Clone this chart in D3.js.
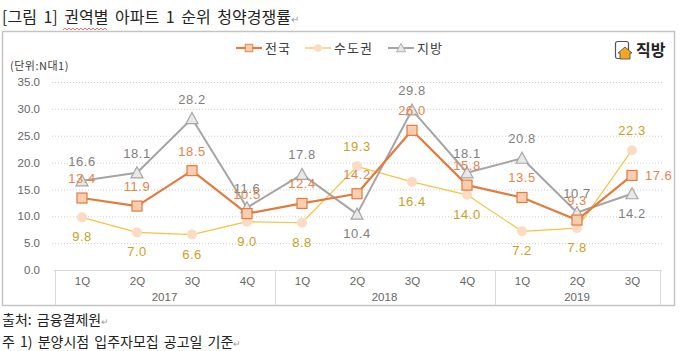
<!DOCTYPE html>
<html>
<head>
<meta charset="utf-8">
<script src="https://cdn.jsdelivr.net/npm/d3@7"></script>
<style>
  body { margin: 0; background: #fff; }
  svg { display: block; font-family: "Liberation Sans", "Noto Sans CJK KR", sans-serif; }
</style>
</head>
<body>
<script>
// Data
const years = ["2017", "2018", "2019"];
const quarters = ["1Q", "2Q", "3Q", "4Q", "1Q", "2Q", "3Q", "4Q", "1Q", "2Q", "3Q"];
const periodYears = ["2017", "2017", "2017", "2017", "2018", "2018", "2018", "2018", "2019", "2019", "2019"];
const national = [13.4, 11.9, 18.5, 10.5, 12.4, 14.2, 26.0, 15.8, 13.5, 9.3, 17.6];
const capital = [9.8, 7.0, 6.6, 9.0, 8.8, 19.3, 16.4, 14.0, 7.2, 7.8, 22.3];
const regional = [16.6, 18.1, 28.2, 11.6, 17.8, 10.4, 29.8, 18.1, 20.8, 10.7, 14.2];
const yTicks = [0, 5, 10, 15, 20, 25, 30, 35];

// label placement per point
const nationalPos = ["a", "a", "a", "a", "a", "a", "a", "a", "a", "a", "r"];
const capitalPos = ["b", "b", "b", "b", "b", "a", "b", "b", "b", "b", "a"];
const regionalPos = ["a", "a", "a", "a", "a", "b", "a", "a", "a", "a", "b"];

const W = 680, H = 351;
const keys = periodYears.map((y, i) => y + "-" + quarters[i]);

const svg = d3.select("body").append("svg")
    .attr("width", W)
    .attr("height", H);

// Scales
const x = d3.scalePoint().domain(keys).range([82, 632]);
const y = d3.scaleLinear().domain([0, 35]).range([270, 82]);
const step = x.step();

// Title
const title = svg.append("text")
    .attr("x", 2).attr("y", 23)
    .attr("font-family", "Noto Sans CJK KR")
    .attr("font-size", 16)
    .attr("word-spacing", 3)
    .attr("fill", "#222");
title.append("tspan").text("[그림 1] 권역별 아파트 1 순위 청약경쟁률");
title.append("tspan").attr("fill", "#999").attr("font-size", 10).text("↵");
// spell check wave under 권역별
svg.append("path")
    .attr("d", d3.range(0, 46, 2).map((d, i) => (i ? "L" : "M") + (63 + d) + "," + (i % 2 ? 28 : 30)).join(""))
    .attr("fill", "none").attr("stroke", "#d9534f").attr("stroke-width", 0.8);

// Frame
svg.append("rect")
    .attr("x", 2.5).attr("y", 31.5)
    .attr("width", 672).attr("height", 274)
    .attr("fill", "none")
    .attr("stroke", "#c4c4c4")
    .attr("stroke-width", 1.5);

// Grid
svg.append("g").selectAll("line")
    .data(yTicks.filter(d => d > 0))
    .join("line")
    .attr("x1", 52).attr("x2", 664)
    .attr("y1", d => y(d) + 0.5).attr("y2", d => y(d) + 0.5)
    .attr("stroke", "#cfcfcf")
    .attr("stroke-dasharray", "1,2");

svg.append("line")
    .attr("x1", 54).attr("x2", 662)
    .attr("y1", y(0) + 0.5).attr("y2", y(0) + 0.5)
    .attr("stroke", "#d9d9d9");

// Y axis
const yAxis = svg.append("g")
    .attr("transform", "translate(52,0)")
    .call(d3.axisLeft(y).tickValues(yTicks).tickFormat(d3.format(".1f")).tickSize(0).tickPadding(12));
yAxis.select(".domain").remove();
yAxis.selectAll("text")
    .attr("font-family", "Liberation Sans")
    .attr("font-size", 11.5)
    .attr("fill", "#666");

svg.append("text")
    .attr("x", 10).attr("y", 70)
    .attr("font-family", "Noto Sans CJK KR")
    .attr("font-size", 11)
    .attr("letter-spacing", 0.5)
    .attr("fill", "#404040")
    .text("(단위:N대1)");

// X axis (quarters)
const xAxis = svg.append("g")
    .attr("transform", `translate(0,${y(0)})`)
    .call(d3.axisBottom(x).tickFormat((d, i) => quarters[i]).tickSize(0).tickPadding(7));
xAxis.select(".domain").remove();
xAxis.selectAll("text")
    .attr("font-family", "Liberation Sans")
    .attr("font-size", 11.5)
    .attr("fill", "#666");

// year groups
const groups = years.map(yr => {
    const ks = keys.filter(k => k.startsWith(yr));
    return { year: yr, x0: x(ks[0]) - step / 2, x1: x(ks[ks.length - 1]) + step / 2 };
});
const sepX = [groups[0].x0].concat(groups.map(g => g.x1));
svg.append("g").selectAll("line")
    .data(sepX)
    .join("line")
    .attr("x1", d => Math.round(d) + 0.5).attr("x2", d => Math.round(d) + 0.5)
    .attr("y1", y(0)).attr("y2", 305)
    .attr("stroke", "#d9d9d9");
svg.append("g").selectAll("text")
    .data(groups)
    .join("text")
    .attr("x", d => (d.x0 + d.x1) / 2)
    .attr("y", 301)
    .attr("text-anchor", "middle")
    .attr("font-family", "Liberation Sans")
    .attr("font-size", 11.5)
    .attr("fill", "#666")
    .text(d => d.year);

// Series
const line = d3.line().x((d, i) => x(keys[i])).y(d => y(d));

const series = [
    { name: "수도권", values: capital, pos: capitalPos, stroke: "#f5c342", width: 1.2, label: "#c8a21c", marker: "circle" },
    { name: "지방", values: regional, pos: regionalPos, stroke: "#a5a5a5", width: 2, label: "#7f7f7f", marker: "triangle" },
    { name: "전국", values: national, pos: nationalPos, stroke: "#e27b3c", width: 2.2, label: "#e8834a", marker: "square" }
];

function drawMarker(sel, type) {
    if (type === "circle") {
        sel.append("circle").attr("r", 5).attr("fill", "#fbdcc3");
    } else if (type === "square") {
        sel.append("rect").attr("x", -5).attr("y", -5).attr("width", 10).attr("height", 10)
            .attr("fill", "#f8cdb0").attr("stroke", "#e27b3c").attr("stroke-width", 1.2);
    } else {
        sel.append("path").attr("d", "M0,-6L6,5L-6,5Z")
            .attr("fill", "#e8e8e8").attr("stroke", "#a5a5a5").attr("stroke-width", 1.2);
    }
}

series.forEach(s => {
    svg.append("path")
        .datum(s.values)
        .attr("d", line)
        .attr("fill", "none")
        .attr("stroke", s.stroke)
        .attr("stroke-width", s.width)
        .attr("stroke-linejoin", "round");

    svg.append("g").selectAll("g")
        .data(s.values)
        .join("g")
        .attr("transform", (d, i) => `translate(${x(keys[i])},${y(d)})`)
        .each(function () { drawMarker(d3.select(this), s.marker); });
});

series.forEach(s => {
    svg.append("g").selectAll("text")
        .data(s.values)
        .join("text")
        .attr("x", (d, i) => s.pos[i] === "r" ? x(keys[i]) + 13 : x(keys[i]))
        .attr("y", (d, i) => {
            const p = s.pos[i];
            if (p === "a") return y(d) - 15;
            if (p === "b") return y(d) + 24;
            return y(d) + 5;
        })
        .attr("text-anchor", (d, i) => s.pos[i] === "r" ? "start" : "middle")
        .attr("font-family", "Liberation Sans")
        .attr("font-size", 13)
        .attr("letter-spacing", 0.5)
        .attr("fill", s.label)
        .text(d => d3.format(".1f")(d));
});

// Legend
const legend = [
    { name: "전국", x: 236, stroke: "#e27b3c", width: 2.2, marker: "square" },
    { name: "수도권", x: 305, stroke: "#f5c342", width: 1.2, marker: "circle" },
    { name: "지방", x: 388, stroke: "#a5a5a5", width: 2, marker: "triangle" }
];
const lg = svg.append("g").selectAll("g")
    .data(legend)
    .join("g")
    .attr("transform", d => `translate(${d.x},48)`);
lg.append("line")
    .attr("x1", 0).attr("x2", 26)
    .attr("stroke", d => d.stroke)
    .attr("stroke-width", d => d.width);
lg.append("g")
    .attr("transform", "translate(13,0) scale(0.75)")
    .each(function (d) { drawMarker(d3.select(this), d.marker); });
lg.append("text")
    .attr("x", 29).attr("y", 5)
    .attr("font-family", "Noto Sans CJK KR")
    .attr("font-size", 13)
    .attr("letter-spacing", 1)
    .attr("fill", "#404040")
    .text(d => d.name);

// Logo
const logo = svg.append("g").attr("transform", "translate(615,41)");
logo.append("rect").attr("x", 0.5).attr("y", 0.5).attr("width", 13).attr("height", 17).attr("rx", 2)
    .attr("fill", "#fff").attr("stroke", "#555").attr("stroke-width", 1.2);
logo.append("path").attr("d", "M3,12L10,6L17,12L15,12L15,18L5,18L5,12Z")
    .attr("fill", "#f5a623").attr("stroke", "#444").attr("stroke-width", 0.8);
logo.append("text")
    .attr("x", 21).attr("y", 15)
    .attr("font-family", "Noto Sans CJK KR")
    .attr("font-weight", "bold")
    .attr("font-size", 16)
    .attr("fill", "#222")
    .text("직방");

// Footnotes
const notes = ["출처: 금융결제원", "주 1) 분양시점 입주자모집 공고일 기준"];
const nt = svg.append("g").selectAll("text")
    .data(notes)
    .join("text")
    .attr("x", 2)
    .attr("y", (d, i) => 325 + i * 22)
    .attr("font-family", "Noto Sans CJK KR")
    .attr("font-size", 14)
    .attr("word-spacing", 2)
    .attr("fill", "#222");
nt.append("tspan").text(d => d);
nt.append("tspan").attr("fill", "#999").attr("font-size", 9).text("↵");
</script>
</body>
</html>
